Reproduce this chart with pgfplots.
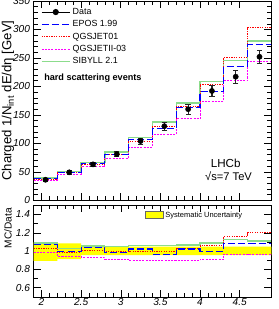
\documentclass[border=0pt]{standalone}
\usepackage{fontspec}
\setmainfont{Liberation Sans}
\usepackage{pgfplots}
\usepackage{pgfplotstable}
\pgfplotsset{compat=1.18}
\usepgfplotslibrary{fillbetween}

\definecolor{sibcol}{RGB}{140,220,140}
\definecolor{eposcol}{RGB}{0,0,255}
\definecolor{qacol}{RGB}{255,0,0}
\definecolor{qbcol}{RGB}{255,0,255}
\definecolor{bandcol}{RGB}{255,255,0}

\pgfplotstableread{
x    y    err
2.05 36   2.5
2.35 49   3
2.65 63   3.5
2.95 81   4.5
3.25 104  5.5
3.55 130  7
3.85 160  8.5
4.15 192  10
4.45 217  12
4.75 252  11
}\data

\pgfplotstableread{
x   epos  qa    qb    sib
1.9 38.6  37.1  35.6  39.2
2.2 49.0  48.5  46.1  50.5
2.5 65.3  63.4  58.6  66.5
2.8 79.8  81.0  73.9  84.9
3.1 106.3 104.0 93.6  110.1
3.4 125.7 129.1 116.2 137.7
3.7 163.5 164.8 143.0 170.6
4.0 190.7 203.3 174.3 208.9
4.3 235.2 251.1 209.8 245.2
4.6 273.2 304.0 243.7 279.7
4.9 273.2 304.0 243.7 279.7
}\hist

\pgfplotstableread{
x   epos  qa    qb    sib   up    lo
1.9 1.073 1.030 0.990 1.088 1.095 0.894
2.2 1.000 0.990 0.940 1.030 1.084 0.912
2.5 1.037 1.007 0.930 1.055 1.052 0.955
2.8 0.985 1.000 0.912 1.048 1.048 0.955
3.1 1.022 1.000 0.900 1.059 1.048 0.955
3.4 0.967 0.993 0.894 1.059 1.048 0.955
3.7 1.022 1.030 0.894 1.066 1.048 0.955
4.0 0.993 1.059 0.908 1.088 1.048 0.955
4.3 1.084 1.157 0.967 1.130 1.048 0.955
4.6 1.084 1.198 0.967 1.110 1.048 0.955
4.9 1.084 1.198 0.967 1.110 1.048 0.955
}\ratio

\pgfplotsset{
  common/.style={
    scale only axis, width=234bp,
    xmin=1.9, xmax=4.9,
    xtick={2,2.5,3,3.5,4,4.5}, minor x tick num=4,
    major tick length=7bp, minor tick length=4bp,
    tick style={black, line width=0.5pt},
    axis line style={line width=0.6pt},
    /pgf/number format/assume math mode=true,
    ticklabel style={font=\itshape\fontsize{10}{10}\selectfont},
    legend cell align=left,
  },
  eposst/.style={color=eposcol, line width=1.1pt, dash pattern=on 7bp off 3bp},
  qast/.style={color=qacol, line width=0.9pt, dash pattern=on 1.2bp off 1.2bp},
  qbst/.style={color=qbcol, line width=0.9pt, dash pattern=on 2bp off 1.2bp},
  sibst/.style={color=sibcol, line width=1.3pt},
}

\begin{document}
\begin{tikzpicture}
\begin{axis}[common, name=top, height=196bp,
  ymin=0, ymax=350, ytick={0,50,...,350}, minor y tick num=4,
  xticklabels={},
  ylabel={Charged 1/N\textsubscript{int} dE/dη [GeV]},
  ylabel style={font=\fontsize{13}{13}\selectfont, at={(axis description cs:-0.107,0.5)}, anchor=center},
  legend style={at={(axis description cs:0.03,0.975)}, anchor=north west, draw=none, fill=none,
    font=\fontsize{8.8}{10}\selectfont, row sep=0.6bp, inner sep=0pt},
  legend image code/.code={\draw[mark repeat=2,mark phase=2,#1] plot coordinates {(0bp,0bp) (14bp,0bp) (28bp,0bp)};},
]
\addlegendimage{black, mark=*, mark size=2.6bp, line width=0.8pt}
\addlegendentry{Data}
\addlegendimage{eposst}
\addlegendentry{EPOS 1.99}
\addlegendimage{qast}
\addlegendentry{QGSJET01}
\addlegendimage{qbst}
\addlegendentry{QGSJETII-03}
\addlegendimage{sibst}
\addlegendentry{SIBYLL 2.1}

\addplot[const plot, sibst, forget plot] table[x=x, y=sib]{\hist};
\addplot[const plot, qbst, forget plot] table[x=x, y=qb]{\hist};
\addplot[const plot, qast, forget plot] table[x=x, y=qa]{\hist};
\addplot[const plot, eposst, forget plot] table[x=x, y=epos]{\hist};
\addplot[black, only marks, mark=*, mark size=2.6bp, forget plot,
  error bars/.cd, y dir=both, y explicit, error bar style={line width=1.2pt, black!85}]
  table[x=x, y=y, y error=err]{\data};

\node[anchor=west, font=\bfseries\fontsize{9}{9}\selectfont] at (axis description cs:0.03,0.612) {hard scattering events};
\node[font=\fontsize{11.5}{12}\selectfont] at (axis description cs:0.808,0.184) {LHCb};
\node[font=\fontsize{11}{12}\selectfont] at (axis description cs:0.82,0.122) {√s=7 TeV};
\end{axis}

\begin{axis}[common, name=bot, at={(top.south west)}, anchor=north west, yshift=-5bp, height=90bp,
  ymin=0.5, ymax=1.5, ytick={0.6,0.8,1,1.2,1.4}, minor y tick num=1,
  xticklabel style={yshift=2bp},
  ylabel={MC/Data},
  ylabel style={font=\fontsize{10}{10}\selectfont, at={(axis description cs:-0.107,0.75)}, anchor=center},
  legend style={at={(axis description cs:0.466,0.955)}, anchor=north west, draw=none, fill=none,
    font=\fontsize{7.4}{8}\selectfont, inner sep=0pt},
  legend image code/.code={\draw[#1] (0bp,-3.5bp) rectangle (18bp,3.5bp);},
]
\addplot[name path=up, const plot, draw=none, forget plot] table[x=x, y=up]{\ratio};
\addplot[name path=lo, const plot, draw=none, forget plot] table[x=x, y=lo]{\ratio};
\addplot[bandcol, draw=none, forget plot] fill between[of=up and lo];
\addlegendimage{fill=bandcol, draw=black!60, line width=0.5pt}
\addlegendentry{Systematic Uncertainty}
\addplot[const plot, sibst, line width=1.1pt, forget plot] table[x=x, y=sib]{\ratio};
\addplot[const plot, qbst, forget plot] table[x=x, y=qb]{\ratio};
\addplot[const plot, qast, forget plot] table[x=x, y=qa]{\ratio};
\addplot[const plot, eposst, forget plot] table[x=x, y=epos]{\ratio};
\node[anchor=north east, font=\fontsize{11}{11}\selectfont] at (axis description cs:1.0,-0.02) {η};
\end{axis}

\pgfresetboundingbox
\path[use as bounding box] ([xshift=-33bp,yshift=1bp]top.north west) rectangle ([xshift=7bp,yshift=-17bp]bot.south east);
\end{tikzpicture}
\end{document}
